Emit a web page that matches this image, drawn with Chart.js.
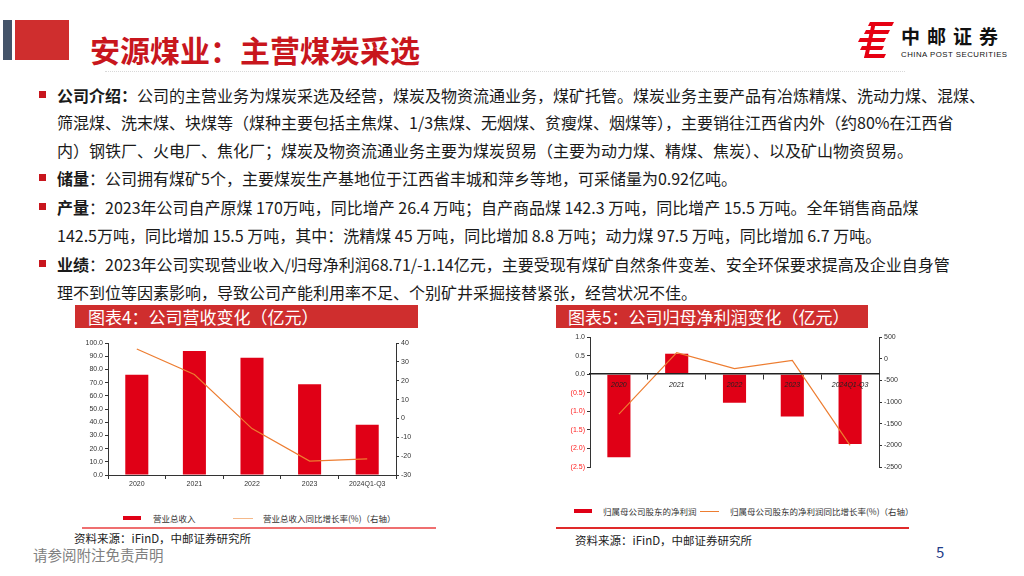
<!DOCTYPE html>
<html>
<head>
<meta charset="utf-8">
<script src="https://cdn.jsdelivr.net/npm/chart.js@4.4.0/dist/chart.umd.min.js"></script>
<style>
  body { margin: 0; width: 1024px; height: 576px; overflow: hidden; background: #fff;
         font-family: "Noto Sans CJK SC", "Noto Sans", sans-serif; position: relative; }
  .abs { position: absolute; white-space: nowrap; }
  .line { position: absolute; left: 57px; font-size: 16px; color: #1a1a1a; white-space: nowrap; line-height: 20px; }
  .line b { font-weight: 700; }
  .bullet { position: absolute; left: 39px; width: 7px; height: 7px; background: #c8161d; }
  .ttl { position: absolute; height: 23px; background: #cf2e2e; color: #fff; font-size: 17px; line-height: 23px; }
  .leg { position: absolute; font-size: 8.5px; color: #333; white-space: nowrap; line-height: 10px; }
  .src { position: absolute; font-size: 11.5px; color: #222; white-space: nowrap; line-height: 14px; }
</style>
</head>
<body>
<!-- header -->
<div class="abs" style="left:3px;top:20px;width:9px;height:40px;background:#44546a"></div>
<div class="abs" style="left:15px;top:20px;width:54px;height:40px;background:#cf2e2e"></div>
<div class="abs" style="left:90px;top:31px;font-size:30px;font-weight:700;color:#c8161d;line-height:36px">安源煤业：主营煤炭采选</div>
<svg class="abs" style="left:856px;top:22px" width="40" height="36" viewBox="0 0 40 36">
  <polygon points="14,0 38,0 36,4 12,4" fill="#e60012"/>
  <polygon points="10,8 34,8 32,12 8,12" fill="#e60012"/>
  <polygon points="4,16 30,16 28,20 2,20" fill="#e60012"/>
  <polygon points="6,24 28,24 26,28 4,28" fill="#e60012"/>
  <polygon points="16,0 20,0 12,36 8,36" fill="#e60012"/>
  <polygon points="10,32 30,32 28,36 8,36" fill="#e60012"/>
</svg>
<div class="abs" style="left:901px;top:26px;font-size:19px;font-weight:700;color:#111;letter-spacing:7px;line-height:20px">中邮证券</div>
<div class="abs" style="left:901px;top:50px;font-family:'Liberation Sans',Arial,sans-serif;font-size:7.8px;color:#111;line-height:9px;letter-spacing:0.5px">CHINA POST SECURITIES</div>
<div class="abs" style="left:105px;top:71px;width:800px;border-top:1px dotted #d8d8d8"></div>

<!-- body text -->
<div class="bullet" style="top:91px"></div>
<div class="line" style="top:85px"><b>公司介绍：</b>公司的主营业务为煤炭采选及经营，煤炭及物资流通业务，煤矿托管。煤炭业务主要产品有冶炼精煤、洗动力煤、混煤、</div>
<div class="line" style="top:112px">筛混煤、洗末煤、块煤等（煤种主要包括主焦煤、1/3焦煤、无烟煤、贫瘦煤、烟煤等），主要销往江西省内外（约80%在江西省</div>
<div class="line" style="top:140px">内）钢铁厂、火电厂、焦化厂；煤炭及物资流通业务主要为煤炭贸易（主要为动力煤、精煤、焦炭）、以及矿山物资贸易。</div>
<div class="bullet" style="top:174px"></div>
<div class="line" style="top:168px"><b>储量</b>：公司拥有煤矿5个，主要煤炭生产基地位于江西省丰城和萍乡等地，可采储量为0.92亿吨。</div>
<div class="bullet" style="top:203px"></div>
<div class="line" style="top:197px"><b>产量</b>：2023年公司自产原煤 170万吨，同比增产 26.4 万吨；自产商品煤 142.3 万吨，同比增产 15.5 万吨。全年销售商品煤</div>
<div class="line" style="top:225px">142.5万吨，同比增加 15.5 万吨，其中：洗精煤 45 万吨，同比增加 8.8 万吨；动力煤 97.5 万吨，同比增加 6.7 万吨。</div>
<div class="bullet" style="top:260px"></div>
<div class="line" style="top:254px"><b>业绩</b>：2023年公司实现营业收入/归母净利润68.71/-1.14亿元，主要受现有煤矿自然条件变差、安全环保要求提高及企业自身管</div>
<div class="line" style="top:282px;line-height:20px">理不到位等因素影响，导致公司产能利用率不足、个别矿井采掘接替紧张，经营状况不佳。</div>

<!-- chart titles -->
<div class="ttl" style="left:75px;top:305px;width:343px"><span style="margin-left:13px">图表4：公司营收变化（亿元）</span></div>
<div class="ttl" style="left:556px;top:305px;width:312px"><span style="margin-left:12px">图表5：公司归母净利润变化（亿元）</span></div>

<!-- charts -->
<div class="abs" style="left:78px;top:335px;width:350px;height:160px"><canvas id="c1"></canvas></div>
<div class="abs" style="left:555px;top:328px;width:360px;height:150px"><canvas id="c2"></canvas></div>

<!-- legends -->
<div class="abs" style="left:123px;top:516px;width:18px;height:4px;background:#e00016"></div>
<div class="leg" style="left:153px;top:513px">营业总收入</div>
<div class="abs" style="left:233px;top:518px;width:20px;height:1px;background:#f5b98a"></div>
<div class="leg" style="left:263px;top:513px">营业总收入同比增长率(%)（右轴）</div>
<div class="abs" style="left:82px;top:527px;width:354px;height:1.5px;background:#ef6f70"></div>
<div class="src" style="left:74px;top:531px">资料来源：iFinD，中邮证券研究所</div>

<div class="abs" style="left:574px;top:509px;width:18px;height:4px;background:#e00016"></div>
<div class="leg" style="left:603px;top:506px">归属母公司股东的净利润</div>
<div class="abs" style="left:700px;top:511px;width:19px;height:1px;background:#ed7d31"></div>
<div class="leg" style="left:730px;top:506px">归属母公司股东的净利润同比增长率(%)（右轴）</div>
<div class="abs" style="left:556px;top:527px;width:353px;height:1.5px;background:#e02a2a"></div>
<div class="src" style="left:575px;top:533px">资料来源：iFinD，中邮证券研究所</div>

<!-- footer -->
<div class="abs" style="left:33px;top:545px;font-size:14.5px;color:#808080;line-height:20px">请参阅附注免责声明</div>
<div class="abs" style="left:936px;top:542px;font-size:15px;color:#1f3c88;line-height:20px">5</div>

<script>
// shared categories
var years = ['2020', '2021', '2022', '2023', '2024Q1-Q3'];

// 图表4: 营业总收入 (亿元) and 同比 (%)
var revenue = [75.9, 93.9, 88.8, 68.7, 38.1];
var revenueYoy = [36.8, 23.3, -5.4, -22.6, -21.4];

// 图表5: 归母净利润 (亿元) and 同比 (%)
var netProfit = [-2.24, 0.55, -0.77, -1.14, -1.88];
var netProfitYoy = [-1280, 140, -230, -40, -2000];

var RED = '#e00016';
var ORANGE = '#ed7d31';
var AXIS = '#333333';
var tickFont = { family: 'Liberation Sans, Arial, sans-serif', size: 7 };

Chart.defaults.animation = false;
Chart.defaults.plugins.legend.display = false;
Chart.defaults.plugins.tooltip.enabled = false;

function fixW(w) { return function (s) { s.width = w; }; }
function fixH(h) { return function (s) { s.height = h; }; }

new Chart(document.getElementById('c1'), {
  type: 'bar',
  data: {
    labels: years,
    datasets: [
      { type: 'line', data: revenueYoy, yAxisID: 'y2', borderColor: ORANGE, borderWidth: 1.2,
        pointRadius: 0, tension: 0, order: 0 },
      { type: 'bar', data: revenue, yAxisID: 'y', backgroundColor: RED,
        barPercentage: 0.4, categoryPercentage: 1, order: 1 }
    ]
  },
  options: {
    responsive: true, maintainAspectRatio: false,
    layout: { padding: { top: 8 } },
    scales: {
      x: {
        afterFit: fixH(20),
        grid: { drawOnChartArea: false, tickLength: 4, color: AXIS },
        border: { color: AXIS },
        ticks: { font: tickFont, color: AXIS, padding: 1, maxRotation: 0 }
      },
      y: {
        position: 'left', min: 0, max: 100,
        afterFit: fixW(30),
        grid: { drawOnChartArea: false, tickLength: 3, color: AXIS },
        border: { color: AXIS },
        ticks: { stepSize: 10, font: tickFont, color: AXIS, padding: 2,
                 callback: function (v) { return v.toFixed(1); } }
      },
      y2: {
        position: 'right', min: -30, max: 40,
        afterFit: fixW(32),
        grid: { drawOnChartArea: false, tickLength: 3, color: AXIS },
        border: { color: AXIS },
        ticks: { stepSize: 10, font: tickFont, color: AXIS, padding: 2 }
      }
    }
  }
});

new Chart(document.getElementById('c2'), {
  type: 'bar',
  data: {
    labels: years,
    datasets: [
      { type: 'line', data: netProfitYoy, yAxisID: 'y2', borderColor: ORANGE, borderWidth: 1.2,
        pointRadius: 0, tension: 0, order: 0 },
      { type: 'bar', data: netProfit, yAxisID: 'y', backgroundColor: RED,
        barPercentage: 0.4, categoryPercentage: 1, order: 1 }
    ]
  },
  options: {
    responsive: true, maintainAspectRatio: false,
    layout: { padding: { top: 9, bottom: 11 } },
    scales: {
      x: {
        position: { y: 0 },
        grid: { drawOnChartArea: false, tickLength: 5, color: AXIS },
        border: { color: '#222', width: 1.5, z: 1 },
        ticks: { z: 1, font: { family: tickFont.family, size: 7, style: 'italic' }, color: '#222', padding: 2, maxRotation: 0 }
      },
      y: {
        position: 'left', min: -2.5, max: 1.0,
        afterFit: fixW(35),
        grid: { drawOnChartArea: false, tickLength: 3, color: AXIS },
        border: { color: AXIS },
        ticks: { stepSize: 0.5, font: tickFont, padding: 2,
                 color: function (ctx) { return ctx.tick && ctx.tick.value < 0 ? '#ff2020' : AXIS; },
                 callback: function (v) { return v < 0 ? '(' + Math.abs(v).toFixed(1) + ')' : v.toFixed(1); } }
      },
      y2: {
        position: 'right', min: -2500, max: 500,
        afterFit: fixW(36),
        grid: { drawOnChartArea: false, tickLength: 3, color: AXIS },
        border: { color: AXIS },
        ticks: { stepSize: 500, font: tickFont, color: AXIS, padding: 2,
                 callback: function (v) { return String(v); } }
      }
    }
  }
});
</script>
</body>
</html>
